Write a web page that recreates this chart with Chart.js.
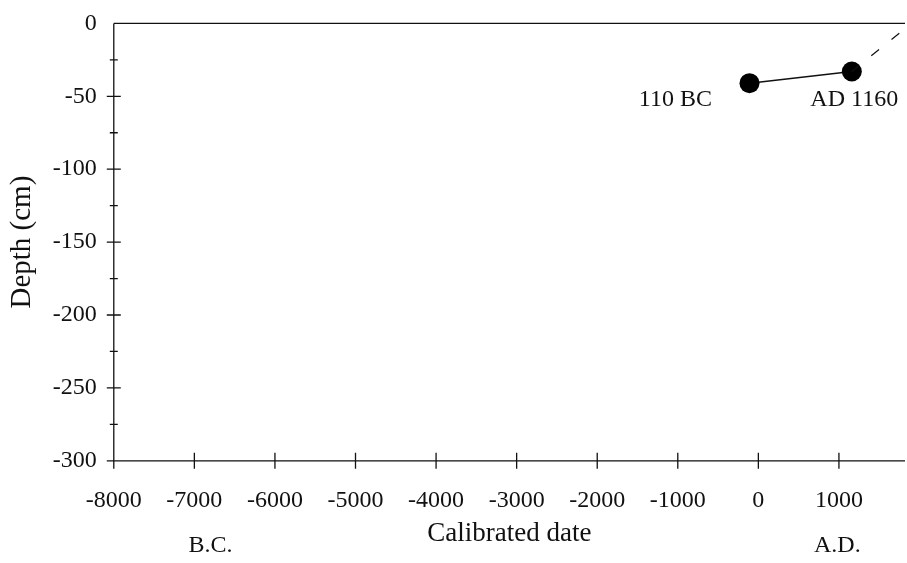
<!DOCTYPE html>
<html lang="en">
<head>
  <meta charset="UTF-8">
  <title>Depth vs calibrated date</title>
  <script src="https://cdn.jsdelivr.net/npm/chart.js"></script>
  <style>
    html, body { margin: 0; padding: 0; background: #fff; }
    #wrap { width: 907px; height: 563px; }
  </style>
</head>
<body>
<div id="wrap"><canvas id="ageChart"></canvas></div>

<script>
  // Data
  const sampleDates = [-110, 1160];
  const sampleDepths = [-41, -33];
  const sampleLabels = ['110 BC', 'AD 1160'];
  const trendDates = [1160, 1900];
  const trendDepths = [-33, 0];
  const xTicks = [-8000, -7000, -6000, -5000, -4000, -3000, -2000, -1000, 0, 1000];
  const yTicks = [0, -50, -100, -150, -200, -250, -300];

  const serif = 'Liberation Serif';
  const ink = '#111';

  // label anchors in data units (text centre)
  const labelAt = [{ x: -1030, y: -52 }, { x: 1190, y: -52 }];

  // axes with ticks that cross the line, plus annotations
  const framePlugin = {
    id: 'frame',
    afterDraw(chart) {
      const ctx = chart.ctx;
      const a = chart.chartArea;
      const xs = chart.scales.x, ys = chart.scales.y;
      ctx.save();
      ctx.strokeStyle = ink;
      ctx.lineWidth = 1.3;
      ctx.beginPath();
      ctx.moveTo(a.left, a.top); ctx.lineTo(a.right, a.top);
      ctx.moveTo(a.left, a.top); ctx.lineTo(a.left, a.bottom);
      ctx.moveTo(a.left, a.bottom); ctx.lineTo(a.right, a.bottom);
      xTicks.forEach(v => {
        const px = xs.getPixelForValue(v);
        ctx.moveTo(px, a.bottom - 8); ctx.lineTo(px, a.bottom + 8);
      });
      for (let v = -300; v <= 0; v += 25) {
        if (v === 0) continue;
        const py = ys.getPixelForValue(v);
        const len = v % 50 === 0 ? 7 : 4;
        ctx.moveTo(a.left - len, py); ctx.lineTo(a.left + len, py);
      }
      ctx.stroke();

      ctx.fillStyle = ink;
      ctx.font = '24px "' + serif + '"';
      ctx.textAlign = 'center';
      ctx.textBaseline = 'middle';
      sampleLabels.forEach((t, i) => {
        ctx.fillText(t, xs.getPixelForValue(labelAt[i].x), ys.getPixelForValue(labelAt[i].y));
      });
      ctx.fillText('B.C.', xs.getPixelForValue(-6800), 546);
      ctx.fillText('A.D.', xs.getPixelForValue(980), 546);
      ctx.restore();
    }
  };

  new Chart(document.getElementById('ageChart'), {
    type: 'scatter',
    data: {
      datasets: [
        {
          label: 'trend',
          data: trendDates.map((d, i) => ({ x: d, y: trendDepths[i] })),
          showLine: true,
          borderColor: ink,
          borderWidth: 1.2,
          borderDash: [10, 16],
          borderDashOffset: 1,
          pointRadius: 0
        },
        {
          label: 'samples',
          data: sampleDates.map((d, i) => ({ x: d, y: sampleDepths[i] })),
          showLine: true,
          borderColor: ink,
          borderWidth: 1.5,
          backgroundColor: '#000',
          pointRadius: 10,
          pointBorderWidth: 0
        }
      ]
    },
    plugins: [framePlugin],
    options: {
      responsive: true,
      maintainAspectRatio: false,
      animation: false,
      layout: { autoPadding: false, padding: { top: 3, right: 2, bottom: 13, left: 5 } },
      plugins: { legend: { display: false }, tooltip: { enabled: false } },
      scales: {
        x: {
          type: 'linear',
          min: -8000,
          max: 1820,
          afterBuildTicks: s => { s.ticks = xTicks.map(v => ({ value: v })); },
          grid: { display: false },
          border: { display: false },
          ticks: {
            color: ink,
            font: { family: serif, size: 24 },
            padding: 18,
            maxRotation: 0,
            autoSkip: false,
            callback: v => String(v)
          },
          title: {
            display: true,
            text: 'Calibrated date',
            color: ink,
            font: { family: serif, size: 27 },
            padding: { top: -16, bottom: 0 }
          }
        },
        y: {
          type: 'linear',
          min: -300,
          max: 0,
          afterBuildTicks: s => { s.ticks = yTicks.map(v => ({ value: v })); },
          grid: { display: false },
          border: { display: false },
          ticks: {
            color: ink,
            font: { family: serif, size: 24 },
            padding: 9,
            callback: v => String(v)
          },
          title: {
            display: true,
            text: 'Depth (cm)',
            color: ink,
            font: { family: serif, size: 29 },
            padding: { top: 0, bottom: 4 }
          }
        }
      }
    }
  });
</script>
</body>
</html>
